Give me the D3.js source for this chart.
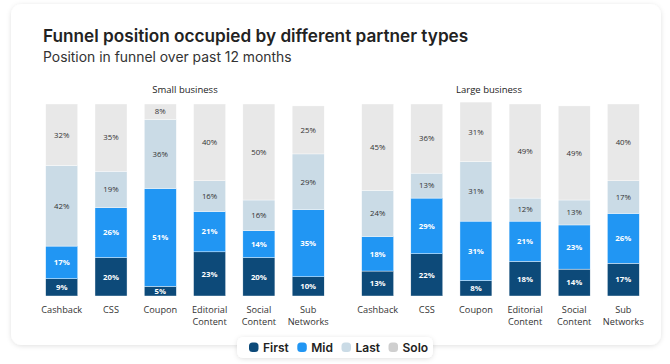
<!DOCTYPE html>
<html>
<head>
<meta charset="utf-8">
<script src="https://cdn.jsdelivr.net/npm/d3@7"></script>
<style>
  body { margin: 0; background: #f7f7f7; }
  svg { display: block; }
</style>
</head>
<body>
<script>
// data
var categories = ["Cashback", "CSS", "Coupon", "Editorial Content", "Social Content", "Sub Networks"];
var series = ["First", "Mid", "Last", "Solo"];
var colors = ["#0d4a79", "#2196f3", "#cadbe6", "#e8e8e8"];
var labelColors = ["#ffffff", "#ffffff", "#333333", "#333333"];

var smallFirst = [9, 20, 5, 23, 20, 10];
var smallMid = [17, 26, 51, 21, 14, 35];
var smallLast = [42, 19, 36, 16, 16, 29];
var smallSolo = [32, 35, 8, 40, 50, 25];

var largeFirst = [13, 22, 8, 18, 14, 17];
var largeMid = [18, 29, 31, 21, 23, 26];
var largeLast = [24, 13, 31, 12, 13, 17];
var largeSolo = [45, 36, 31, 49, 49, 40];

var w = 670, h = 364;

var svg = d3.select("body").append("svg")
    .attr("width", w)
    .attr("height", h);

var defs = svg.append("defs");
var f = defs.append("filter").attr("id", "shadow")
    .attr("x", "-10%").attr("y", "-10%").attr("width", "120%").attr("height", "130%");
f.append("feDropShadow").attr("dx", 0).attr("dy", 1).attr("stdDeviation", 2.5)
    .attr("flood-color", "#000").attr("flood-opacity", 0.12);

svg.append("rect").attr("width", w).attr("height", h).attr("fill", "#ffffff");

// card
svg.append("rect")
    .attr("x", 11).attr("y", 4)
    .attr("width", 650).attr("height", 341)
    .attr("rx", 11)
    .attr("fill", "#fff")
    .attr("filter", "url(#shadow)");

svg.append("text")
    .attr("x", 43).attr("y", 42)
    .attr("font-family", "Inter, sans-serif")
    .attr("font-weight", 600)
    .attr("font-size", 17.2)
    .attr("fill", "#222")
    .text("Funnel position occupied by different partner types");

svg.append("text")
    .attr("x", 43).attr("y", 62)
    .attr("font-family", "Inter, sans-serif")
    .attr("font-size", 13.9)
    .attr("fill", "#333")
    .text("Position in funnel over past 12 months");

var y = d3.scaleLinear().domain([0, 100]).range([296, 104]);

function drawPanel(title, x0, x1, titleX, first, mid, last, solo) {
    var x = d3.scaleBand().domain(categories).range([x0, x1]).paddingInner(0.35).paddingOuter(0);

    var rows = categories.map(function(c, i) {
        return { cat: c, First: first[i], Mid: mid[i], Last: last[i], Solo: solo[i] };
    });
    var stacked = d3.stack().keys(series)(rows);

    var g = svg.append("g");

    g.append("text")
        .attr("x", titleX).attr("y", 93)
        .attr("text-anchor", "middle")
        .attr("font-family", "'Open Sans', sans-serif")
        .attr("font-size", 9.5)
        .attr("fill", "#222")
        .text(title);

    stacked.forEach(function(layer, k) {
        var lg = g.append("g");
        lg.selectAll("rect")
            .data(layer)
            .enter()
            .append("rect")
            .attr("x", function(d) { return x(d.data.cat); })
            .attr("y", function(d) { return y(d[1]); })
            .attr("width", x.bandwidth())
            .attr("height", function(d) { return y(d[0]) - y(d[1]); })
            .attr("fill", colors[k])
            .attr("stroke", "#fff")
            .attr("stroke-width", 0.4);

        lg.selectAll("text")
            .data(layer)
            .enter()
            .append("text")
            .attr("x", function(d) { return x(d.data.cat) + x.bandwidth() / 2; })
            .attr("y", function(d) { return (y(d[0]) + y(d[1])) / 2 + 2.8; })
            .attr("text-anchor", "middle")
            .attr("font-family", "'Open Sans', sans-serif")
            .attr("font-size", 7.8)
            .attr("font-weight", k < 2 ? 700 : 400)
            .attr("fill", labelColors[k])
            .text(function(d) { return (d[1] - d[0]) + "%"; });
    });

    // category labels
    var labels = g.selectAll(".cat")
        .data(categories)
        .enter()
        .append("text")
        .attr("class", "cat")
        .attr("text-anchor", "middle")
        .attr("font-family", "'Open Sans', sans-serif")
        .attr("font-size", 9.2)
        .attr("fill", "#333")
        .attr("transform", function(d) { return "translate(" + (x(d) + x.bandwidth() / 2) + ",313)"; });
    labels.each(function(d) {
        var words = d.split(" ");
        var t = d3.select(this);
        words.forEach(function(wd, i) {
            t.append("tspan").attr("x", 0).attr("dy", i === 0 ? 0 : 12).text(wd);
        });
    });
}

drawPanel("Small business", 45.7, 324.2, 185, smallFirst, smallMid, smallLast, smallSolo);
drawPanel("Large business", 361.7, 639.3, 489, largeFirst, largeMid, largeLast, largeSolo);

// legend
var legend = svg.append("g");
legend.append("rect")
    .attr("x", 237).attr("y", 337)
    .attr("width", 196).attr("height", 21)
    .attr("rx", 6)
    .attr("fill", "#fff")
    .attr("filter", "url(#shadow)");

var lx = 249;
series.forEach(function(s, i) {
    legend.append("rect")
        .attr("x", lx).attr("y", 342.5)
        .attr("width", 9.5).attr("height", 9.5)
        .attr("rx", 3.5)
        .attr("fill", i === 3 ? "#cfcfcf" : colors[i]);
    var t = legend.append("text")
        .attr("x", lx + 14).attr("y", 351.5)
        .attr("font-family", "Inter, sans-serif")
        .attr("font-weight", 600)
        .attr("font-size", 12)
        .attr("fill", "#222")
        .text(s);
    lx += 14 + t.node().getComputedTextLength() + 8.5;
});
</script>
</body>
</html>
